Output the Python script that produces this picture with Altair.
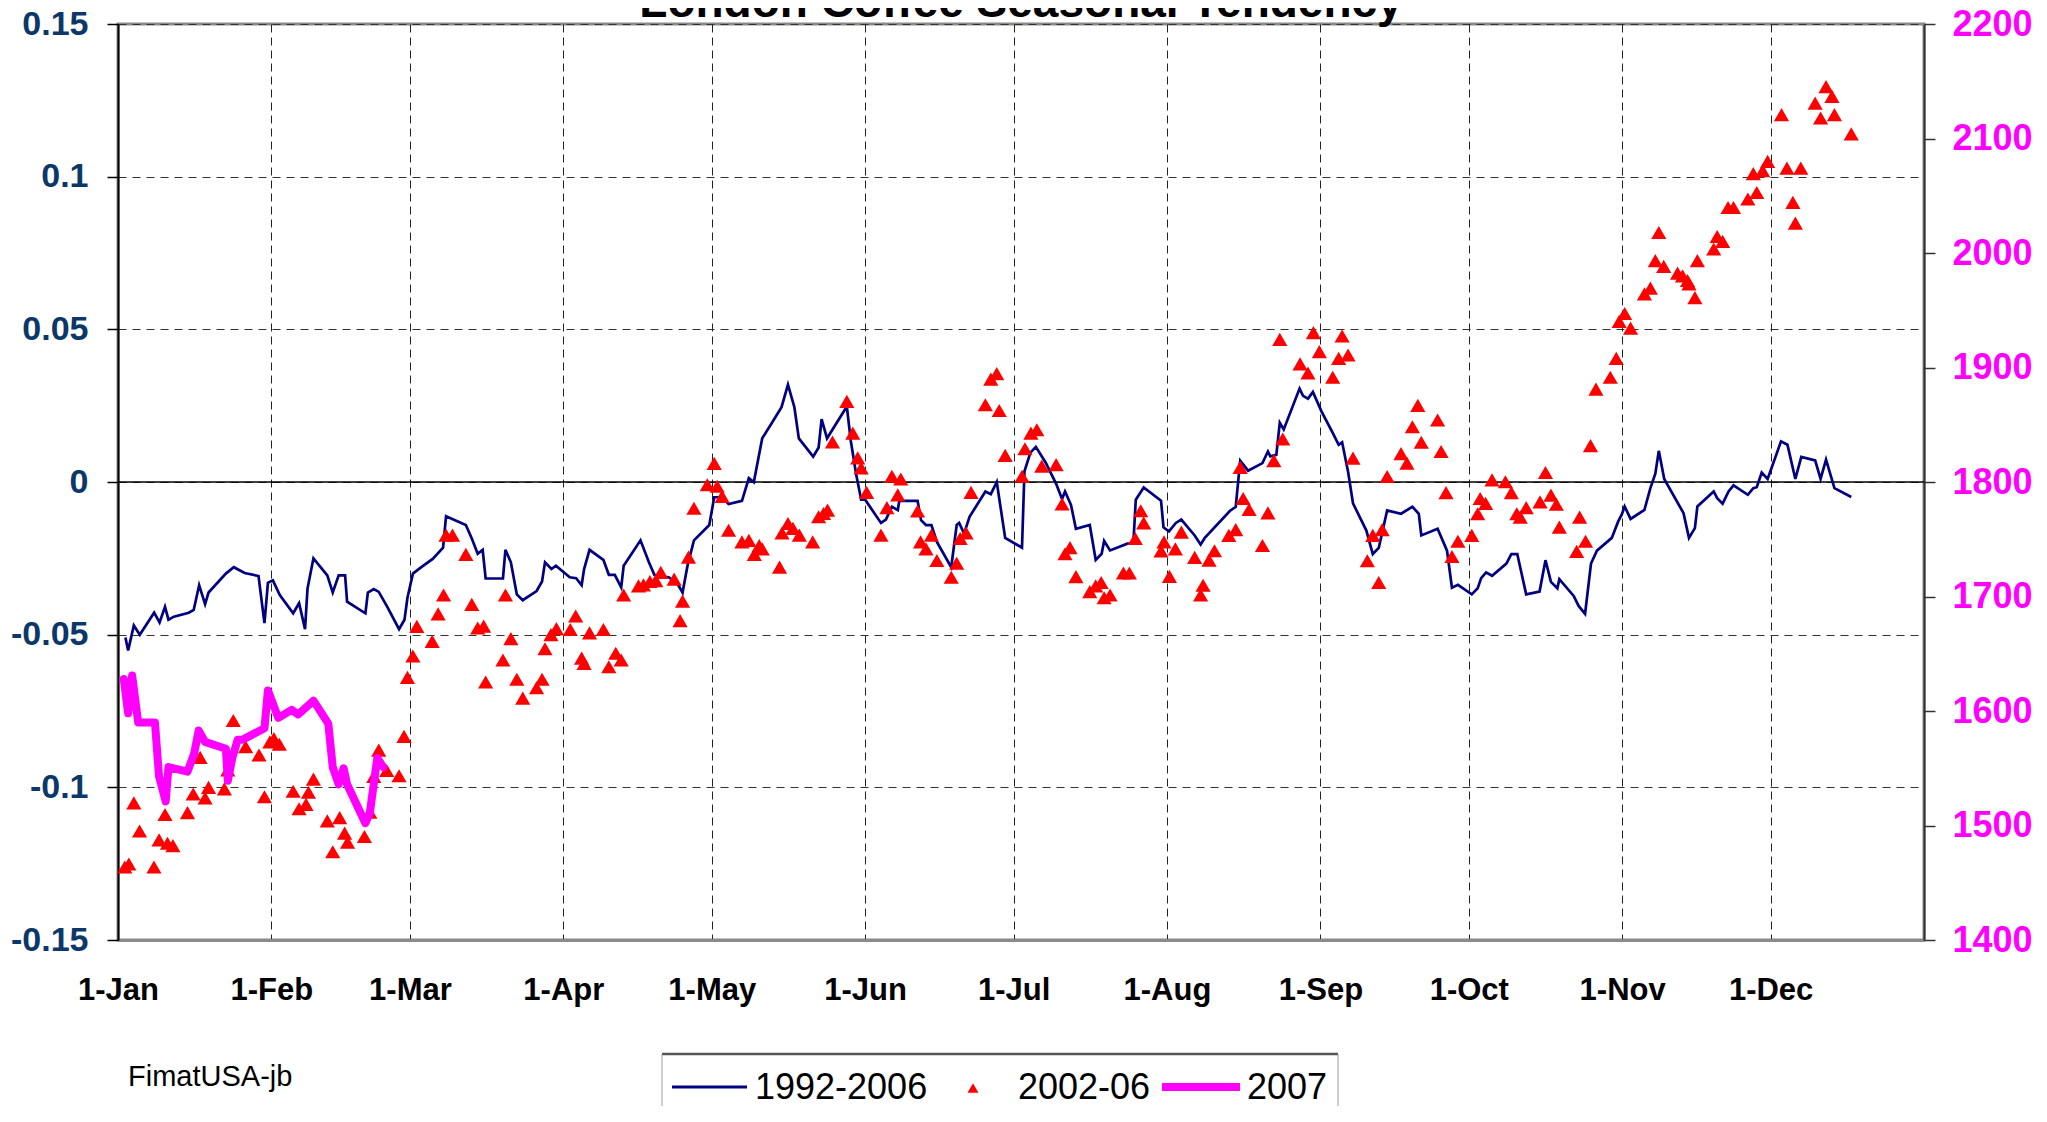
import altair as alt
import pandas as pd

# ---------------- axis ticks / labels ----------------
MONTH_DAYS = [0, 31, 59, 90, 120, 151, 181, 212, 243, 273, 304, 334]
MONTH_LABELS = ["1-Jan", "1-Feb", "1-Mar", "1-Apr", "1-May", "1-Jun",
                "1-Jul", "1-Aug", "1-Sep", "1-Oct", "1-Nov", "1-Dec"]
LEFT_TICKS = [-0.15, -0.1, -0.05, 0, 0.05, 0.1, 0.15]
LEFT_LABELS = ["-0.15", "-0.1", "-0.05", "0", "0.05", "0.1", "0.15"]
RIGHT_TICKS = [1400, 1500, 1600, 1700, 1800, 1900, 2000, 2100, 2200]
ZERO_LINE = [0]

SERIES_NAMES = ["1992-2006", "2002-06", "2007"]
TITLE = "London Coffee Seasonal Tendency"
SOURCE = "FimatUSA-jb"

# ---------------- 1992-2006 seasonal average (day of year, value) ----------------
avg_days = [1.5, 2.05, 3.2, 4.4, 7.3, 8.4, 9.5, 10.2, 11.3, 14.3, 15.3, 16.4, 17.6, 18.3,
            21.8, 23.4, 25.6, 28.4, 29.6, 30.3, 31.3, 32.7, 35.4, 36.6, 37.8, 38.3, 39.5,
            42.3, 43.4, 44.6, 45.9, 46.3, 50.0, 50.5, 51.7, 52.7, 54.4, 56.8, 57.9, 58.5,
            59.6, 61.3, 63.6, 65.7, 66.3, 70.3, 71.5, 72.7, 73.7, 74.3, 77.8, 78.3, 79.4,
            80.6, 81.8, 84.6, 85.7, 86.3, 87.6, 88.5, 91.3, 92.6, 93.7, 94.2, 95.3, 98.1,
            99.2, 100.4, 101.7, 102.2, 105.6, 107.3, 108.4, 110.1, 111.3, 113.1, 114.1,
            115.1, 116.4, 119.5, 120.5, 122.1, 123.4, 126.1, 127.5, 128.5, 130.2, 132.2,
            134.1, 135.4, 136.7, 137.6, 140.5, 141.6, 142.2, 143.3, 147.3, 148.1, 149.2,
            150.2, 151.0, 154.2, 155.2, 156.4, 157.6, 157.9, 161.6, 162.3, 163.3, 164.4,
            165.5, 168.4, 169.5, 170.0, 171.0, 172.1, 175.3, 176.4, 177.6, 179.3, 182.7,
            183.2, 184.4, 185.5, 187.5, 189.6, 190.8, 191.4, 192.6, 193.6, 196.4, 197.6,
            198.8, 199.3, 200.5, 204.0, 205.2, 205.7, 207.3, 210.8, 211.3, 212.4, 213.8,
            214.9, 217.6, 218.8, 219.6, 224.7, 225.9, 226.8, 228.4, 231.3, 232.4, 232.9,
            234.1, 234.8, 235.6, 238.8, 239.5, 240.5, 241.5, 243.2, 245.5, 246.7, 247.4,
            248.6, 249.6, 252.3, 253.6, 254.8, 256.5, 259.3, 261.6, 262.9, 263.4, 266.7,
            268.6, 269.6, 270.8, 273.6, 274.8, 275.5, 276.5, 277.7, 280.6, 281.6, 282.8,
            284.6, 287.3, 288.5, 289.6, 290.9, 291.3, 294.2, 295.2, 296.5, 297.7, 298.9,
            301.9, 303.2, 303.9, 304.5, 305.7, 308.5, 309.7, 310.7, 311.4, 312.5, 316.4,
            317.5, 318.7, 319.2, 322.5, 323.2, 324.3, 325.5, 326.5, 329.4, 330.5, 331.2,
            332.2, 333.4, 336.1, 337.4, 339.0, 340.2, 343.0, 344.1, 345.2, 346.9, 350.3]
avg_vals = [-0.0509, -0.0552, -0.047, -0.05, -0.0428, -0.046, -0.0409, -0.0451, -0.0441,
            -0.0428, -0.0419, -0.0338, -0.040, -0.0362, -0.030, -0.0279, -0.0298, -0.0308,
            -0.0462, -0.033, -0.0322, -0.037, -0.043, -0.0397, -0.0482, -0.0349, -0.025,
            -0.0306, -0.0362, -0.0306, -0.0306, -0.0392, -0.043, -0.0362, -0.0351, -0.036,
            -0.0408, -0.0482, -0.0451, -0.0379, -0.030, -0.0279, -0.0252, -0.0215, -0.0112,
            -0.0141, -0.0185, -0.0235, -0.0222, -0.0316, -0.0316, -0.0222, -0.0263, -0.0368,
            -0.0387, -0.0357, -0.0326, -0.0263, -0.0285, -0.0274, -0.0312, -0.0315, -0.0338,
            -0.0285, -0.0222, -0.0255, -0.0304, -0.0304, -0.0345, -0.0274, -0.0191, -0.0263,
            -0.0304, -0.031, -0.0312, -0.0334, -0.0362, -0.0274, -0.0191, -0.0141, -0.005,
            -0.005, -0.0072, -0.0062, 0.0013, -0.0001, 0.0143, 0.0195, 0.0245, 0.0319,
            0.0245, 0.0143, 0.0083, 0.0113, 0.0206, 0.0143, 0.0247, 0.0135, 0.0024, -0.0058,
            -0.0058, -0.0134, -0.0123, -0.0081, -0.0092, -0.0062, -0.0062, -0.0125, -0.0141,
            -0.0141, -0.0196, -0.0279, -0.0141, -0.0134, -0.0169, -0.0114, -0.0031, -0.004,
            0.0, -0.0183, -0.0215, 0.0035, 0.0096, 0.0115, 0.0063, -0.0006, -0.0056, -0.0031,
            -0.0075, -0.0153, -0.0141, -0.0255, -0.0235, -0.0193, -0.0224, -0.0202, -0.0202,
            -0.0058, -0.0018, -0.0061, -0.0148, -0.0162, -0.0134, -0.0123, -0.0175, -0.0205,
            -0.0184, -0.0095, -0.0081, 0.007, 0.0037, 0.0062, 0.01, 0.0084, 0.0089, 0.0194,
            0.0172, 0.0306, 0.0282, 0.0273, 0.0295, 0.0232, 0.0161, 0.0122, 0.013, 0.0034,
            -0.007, -0.0159, -0.0236, -0.0216, -0.0093, -0.0104, -0.0081, -0.0104, -0.0175,
            -0.0153, -0.0225, -0.0346, -0.0337, -0.0368, -0.0348, -0.0315, -0.0296, -0.0307,
            -0.0267, -0.0236, -0.0236, -0.0368, -0.0359, -0.0256, -0.0327, -0.0348, -0.0318,
            -0.0373, -0.0406, -0.0432, -0.0267, -0.0225, -0.0183, -0.0129, -0.0107, -0.0080,
            -0.0121, -0.0091, -0.002, 0.0027, 0.0102, 0.001, -0.0102, -0.0183, -0.0151,
            -0.008, -0.0031, -0.0053, -0.0071, -0.0031, -0.0011, -0.0042, -0.002, -0.0017,
            0.0031, 0.001, 0.0133, 0.0122, 0.001, 0.0082, 0.0071, 0.001, 0.0073, -0.002,
            -0.0049]

# ---------------- 2002-06 (day of year, value) ----------------
hist_days = [1.37, 2.19, 3.2, 4.36, 7.27, 8.3, 9.5, 10.0, 11.1, 14.05, 15.2, 16.6, 17.6,
             18.3, 21.5, 22.2, 23.3, 25.8, 28.5, 29.6, 30.7, 31.5, 32.6, 35.4, 36.6, 38.0,
             38.5, 39.5, 42.3, 43.4, 44.8, 45.8, 46.4, 49.8, 50.9, 51.7, 52.7, 54.3, 56.8,
             57.8, 58.5, 59.6, 60.4, 63.5, 64.7, 65.8, 66.3, 67.6, 70.3, 71.5, 72.7, 73.9,
             74.3, 77.8, 78.3, 79.4, 80.6, 81.8, 84.6, 85.7, 86.3, 87.5, 88.6, 91.4, 92.5,
             93.7, 94.2, 95.3, 98.1, 99.2, 100.6, 101.7, 102.2, 105.2, 106.2, 107.5, 108.7,
             109.7, 112.4, 113.6, 114.1, 115.3, 116.4, 119.1, 120.5, 121.1, 122.1, 123.4,
             126.1, 127.5, 128.6, 129.6, 130.2, 133.7, 134.2, 135.4, 136.4, 137.7, 140.4,
             141.6, 142.6, 143.4, 144.4, 147.3, 148.5, 149.5, 150.2, 151.3, 154.2, 155.4,
             156.4, 157.6, 158.2, 161.6, 162.2, 163.3, 164.4, 165.5, 168.4, 169.5, 170.2,
             171.4, 172.4, 175.3, 176.4, 177.6, 178.1, 179.3, 182.7, 183.3, 184.5, 185.7,
             186.7, 189.6, 190.8, 191.4, 192.4, 193.6, 196.4, 197.6, 198.7, 199.3, 200.5,
             203.2, 204.4, 205.6, 206.7, 207.3, 210.8, 211.4, 212.5, 213.7, 214.9, 217.6,
             218.8, 219.3, 220.5, 221.6, 224.5, 225.9, 226.8, 227.4, 228.6, 231.3, 232.4,
             233.6, 234.8, 235.4, 238.9, 240.5, 241.6, 242.8, 245.5, 246.7, 247.4, 248.6,
             249.6, 252.5, 253.6, 254.8, 255.5, 256.5, 259.3, 260.5, 261.6, 262.7, 263.4,
             266.7, 267.4, 268.4, 269.6, 270.8, 273.6, 274.8, 275.3, 276.4, 277.7, 280.4,
             281.6, 282.7, 283.4, 284.6, 287.4, 288.5, 289.6, 290.7, 291.3, 294.8, 295.4,
             296.6, 297.6, 298.7, 301.6, 302.8, 303.4, 304.5, 305.7, 308.5, 309.7, 310.7,
             311.4, 312.4, 315.2, 316.2, 317.2, 317.5, 318.7, 319.2, 322.5, 323.2, 324.3,
             325.4, 326.5, 329.4, 330.5, 331.2, 332.4, 333.4, 336.2, 337.3, 338.5, 339.0,
             340.1, 343.0, 344.1, 345.2, 346.4, 346.9, 350.3]
hist_vals = [-0.1261, -0.1251, -0.1051, -0.1143, -0.1261, -0.1172, -0.1089, -0.1183, -0.1191,
             -0.1083, -0.1022, -0.0902, -0.1035, -0.1, -0.1005, -0.0943, -0.0781, -0.0867,
             -0.0894, -0.1031, -0.0851, -0.084, -0.0859, -0.1013, -0.107, -0.1056, -0.1016,
             -0.0973, -0.111, -0.1211, -0.1099, -0.115, -0.118, -0.1161, -0.1081, -0.0964,
             -0.0878, -0.0945, -0.0962, -0.0833, -0.064, -0.057, -0.0473, -0.0522, -0.0432,
             -0.037, -0.0174, -0.0174, -0.0237, -0.0401, -0.0478, -0.0472, -0.0655, -0.0583,
             -0.037, -0.0513, -0.0646, -0.0708, -0.0674, -0.0646, -0.0546, -0.05, -0.048,
             -0.0483, -0.0439, -0.0577, -0.0594, -0.0494, -0.0483, -0.0605, -0.0561, -0.0583,
             -0.037, -0.034, -0.0337, -0.0326, -0.0323, -0.0296, -0.0318, -0.0454, -0.039,
             -0.0246, -0.0086, -0.0009, 0.0061, -0.0014, -0.0047, -0.0158, -0.0196, -0.0191,
             -0.0237, -0.0208, -0.0219, -0.0279, -0.0167, -0.0136, -0.0152, -0.0174, -0.0196,
             -0.0114, -0.0103, -0.0092, 0.0131, 0.0264, 0.016, 0.0079, 0.0046, -0.0034,
             -0.0174, -0.0084, 0.0019, -0.0042, 0.001, -0.0095, -0.0196, -0.0219, -0.0174,
             -0.0257, -0.0312, -0.0266, -0.0185, -0.0167, -0.0034, 0.0253, 0.0337, 0.0355,
             0.0234, 0.0087, 0.0019, 0.0109, 0.016, 0.0171, 0.0052, 0.0057, -0.0072, -0.0235,
             -0.0215, -0.031, -0.0359, -0.034, -0.0329, -0.0379, -0.037, -0.0298, -0.0298,
             -0.0185, -0.0094, -0.0134, -0.0226, -0.0196, -0.0309, -0.0219, -0.0164, -0.0247,
             -0.037, -0.0338, -0.0256, -0.0225, -0.0175, -0.0156, 0.0048, -0.0054, -0.009,
             -0.0208, -0.0101, 0.007, 0.0467, 0.0141, 0.0387, 0.0357, 0.0489, 0.0427, 0.0343,
             0.0405, 0.0478, 0.0416, 0.0078, -0.0258, -0.0175, -0.0329, -0.0156, 0.0018,
             0.0093, 0.0062, 0.0181, 0.0251, 0.013, 0.0203, 0.01, -0.0035, -0.0244, -0.0194,
             -0.0175, -0.0104, -0.0054, -0.007, 0.0007, 0.0001, -0.0035, -0.0104, -0.0115,
             -0.0084, -0.0065, 0.0031, -0.0043, -0.0073, -0.0148, -0.0227, -0.0115, -0.0194,
             0.0119, 0.0304, 0.0343, 0.0405, 0.0526, 0.0552, 0.0504, 0.0616, 0.0635, 0.0725,
             0.0817, 0.0706, 0.0684, 0.0675, 0.066, 0.0649, 0.0604, 0.0725, 0.0763, 0.0804,
             0.0788, 0.0899, 0.0899, 0.0927, 0.101, 0.0948, 0.102, 0.105, 0.1203, 0.1028,
             0.0916, 0.0848, 0.1028, 0.1241, 0.1192, 0.1295, 0.1263, 0.1203, 0.114]

# ---------------- 2007 price (day of year, price, right axis) ----------------
cur_days = [1.17, 2.05, 2.86, 4.08, 7.47, 8.29, 9.64, 10.2, 14.05, 15.4, 16.3, 17.6, 21.8,
            22.2, 23.1, 24.2, 25.2, 29.6, 30.3, 32.4, 35.1, 36.4, 39.5, 42.5, 43.4, 44.6,
            45.6, 46.3, 50.0, 50.9, 52.4, 53.6]
cur_prices = [1628, 1598, 1631, 1590, 1590, 1543, 1521, 1551, 1547, 1563, 1583, 1573, 1567,
              1539, 1559, 1575, 1575, 1585, 1618, 1594, 1601, 1597, 1609, 1589, 1551, 1536,
              1550, 1536, 1502, 1511, 1559, 1551]

# ---------------- frames ----------------
avg_df = pd.DataFrame({"day": avg_days, "value": avg_vals})
hist_df = pd.DataFrame({"day": hist_days, "value": hist_vals})
cur_df = pd.DataFrame({"day": cur_days, "price": cur_prices})
zero_df = pd.DataFrame({"value": ZERO_LINE})
one = pd.DataFrame({"k": [0]})

W, H = 1806, 916
FONT = "Liberation Sans"
NAVY = "#000080"
RED = "#FF0000"
MAGENTA = "#FF00FF"

month_expr = ("[" + ",".join("'%s'" % m for m in MONTH_LABELS) + "][indexof(["
              + ",".join(str(d) for d in MONTH_DAYS) + "], datum.value)]")
left_expr = ("[" + ",".join("'%s'" % s for s in LEFT_LABELS) + "][indexof(["
             + ",".join(repr(v) for v in LEFT_TICKS) + "], datum.value)]")

x_scale = alt.Scale(domain=[0, 365], nice=False, zero=False)
yl_scale = alt.Scale(domain=[-0.15, 0.15], nice=False, zero=False)
yr_scale = alt.Scale(domain=[1400, 2200], nice=False, zero=False)

x_axis = alt.Axis(values=MONTH_DAYS, labelExpr=month_expr, title=None, grid=True,
                  gridDash=[8, 5], gridColor="#222222", gridWidth=1, ticks=False, tickSize=0,
                  domainColor="#8a8a8a", domainWidth=3, labelFont=FONT, labelFontSize=31,
                  labelFontWeight="bold", labelColor="#000000", labelPadding=35,
                  labelAngle=0, labelFlush=False, labelOverlap=False)
yl_axis = alt.Axis(values=LEFT_TICKS, labelExpr=left_expr, title=None, grid=True,
                   gridDash=[8, 6], gridColor="#333333", gridWidth=1.2, tickColor="#000000",
                   tickSize=11, tickWidth=1.5, domainColor="#000000", domainWidth=2,
                   labelFont=FONT, labelFontSize=34, labelFontWeight="bold",
                   labelColor="#0b3868", labelPadding=19, labelFlush=False, labelOverlap=False)
yr_axis = alt.Axis(orient="right", values=RIGHT_TICKS, format="d", title=None, grid=False,
                   tickColor="#333333", tickSize=11, tickWidth=1.5, domainColor="#333333",
                   domainWidth=2, labelFont=FONT, labelFontSize=36, labelFontWeight="bold",
                   labelColor=MAGENTA, labelPadding=17, labelFlush=False, labelOverlap=False)

zero_rule = alt.Chart(zero_df).mark_rule(color="#000000", strokeWidth=1.5).encode(
    y=alt.Y("value:Q", scale=yl_scale, axis=yl_axis))
avg_line = alt.Chart(avg_df).mark_line(color=NAVY, strokeWidth=2.7).encode(
    x=alt.X("day:Q", scale=x_scale, axis=x_axis),
    y=alt.Y("value:Q", scale=yl_scale, axis=yl_axis))
hist_pts = alt.Chart(hist_df).mark_point(shape="triangle-up", filled=True, color=RED,
                                         opacity=1, size=230).encode(
    x=alt.X("day:Q", scale=x_scale),
    y=alt.Y("value:Q", scale=yl_scale))
left = alt.layer(zero_rule, avg_line, hist_pts)

cur_line = alt.Chart(cur_df).mark_line(color=MAGENTA, strokeWidth=8, strokeJoin="round",
                                       strokeCap="round").encode(
    x=alt.X("day:Q", scale=x_scale),
    y=alt.Y("price:Q", scale=yr_scale, axis=yr_axis))

# ---------------- title, source, legend ----------------
title = alt.Chart(one).mark_text(font=FONT, fontSize=46, fontWeight="bold", align="center",
                                 baseline="alphabetic", color="#000000").encode(
    x=alt.value(W / 2), y=alt.value(-7), text=alt.value(TITLE))
source = alt.Chart(one).mark_text(font=FONT, fontSize=29, align="left", baseline="middle",
                                  color="#000000").encode(
    x=alt.value(10), y=alt.value(1053), text=alt.value(SOURCE))

box_top = alt.Chart(one).mark_rule(color="#555555", strokeWidth=2.5).encode(
    x=alt.value(544), x2=alt.value(1220), y=alt.value(1030))
box_l = alt.Chart(one).mark_rule(color="#9a9a9a", strokeWidth=1).encode(
    x=alt.value(544), y=alt.value(1030), y2=alt.value(1110))
box_r = alt.Chart(one).mark_rule(color="#9a9a9a", strokeWidth=1).encode(
    x=alt.value(1220), y=alt.value(1030), y2=alt.value(1110))

leg_navy = alt.Chart(one).mark_rule(color=NAVY, strokeWidth=3).encode(
    x=alt.value(554), x2=alt.value(629), y=alt.value(1063))
leg_red = alt.Chart(one).mark_point(shape="triangle-up", filled=True, color=RED, opacity=1,
                                    size=120).encode(x=alt.value(855), y=alt.value(1064))
leg_mag = alt.Chart(one).mark_rule(color=MAGENTA, strokeWidth=8).encode(
    x=alt.value(1044), x2=alt.value(1122), y=alt.value(1063))


def leg_text(x, s):
    return alt.Chart(one).mark_text(font=FONT, fontSize=36, align="left", baseline="middle",
                                    color="#000000").encode(
        x=alt.value(x), y=alt.value(1064), text=alt.value(s))


chart = alt.layer(
    left, cur_line, title, source, box_top, box_l, box_r,
    leg_navy, leg_text(637, SERIES_NAMES[0]), leg_red, leg_text(900, SERIES_NAMES[1]),
    leg_mag, leg_text(1129, SERIES_NAMES[2]),
).resolve_scale(y="independent").properties(
    width=W, height=H,
    padding={"left": 110, "top": 16, "right": 114, "bottom": 166},
    autosize=alt.AutoSizeParams(type="none"),
    background="#ffffff",
).configure_view(stroke="#8a8a8a", strokeWidth=3)

chart.save("out.html", embed_options={"renderer": "svg", "actions": False})
